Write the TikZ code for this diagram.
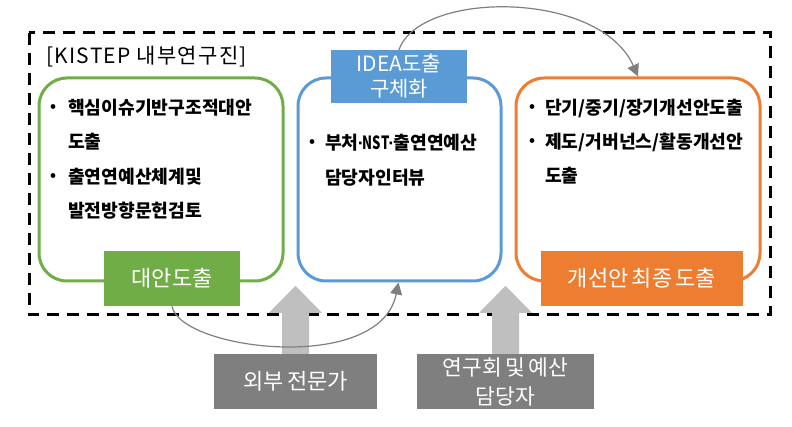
\documentclass[tikz,border=0pt]{standalone}
\usepackage{fontspec}
\usepackage{graphicx}
\setmainfont{Noto Sans CJK KR}
\newfontfamily\latdot{Liberation Sans}
\usetikzlibrary{arrows.meta,calc}
\definecolor{cgreen}{HTML}{70AD47}
\definecolor{cblue}{HTML}{5B9BD5}
\definecolor{corange}{HTML}{ED7D31}
\definecolor{cgray}{HTML}{7F7F7F}
\definecolor{clight}{HTML}{BFBFBF}
\newcommand{\tgap}{\hspace{0.15em}}
\begin{document}
\begin{tikzpicture}[x=1pt,y=-1pt,
  panel/.style={draw=#1,line width=3pt,rounded corners=28pt,minimum height=203pt,inner sep=0pt},
  tag/.style={fill=#1,text=white,inner sep=0pt,align=center,font=\fontsize{22}{25}\selectfont},
  item/.style={anchor=west,inner sep=0pt,font=\bfseries\fontsize{18.2}{20}\selectfont},
  bul/.style={inner sep=0pt,font=\bfseries\fontsize{15}{16}\selectfont},
  link/.style={draw=cgray,line width=1.2pt,-{Triangle[length=12pt,width=12pt]}},
  uparrow/.style={fill=clight,draw=none},
]
\useasboundingbox (0,0) rectangle (792,427);

% dashed frame
\draw[line width=3pt,dash pattern=on 12pt off 8pt] (29,33) rectangle (770,315);
\node[anchor=west,inner sep=0pt,font=\fontsize{21}{24}\selectfont\addfontfeature{LetterSpace=6}] (kistep) at (46,57) {[KISTEP 내부연구진]};

% panels
\node[panel=cgreen,minimum width=244pt] (gbox) at (161,179.5) {};
\node[panel=cblue,minimum width=203pt] (bbox) at (399.5,179.5) {};
\node[panel=corange,minimum width=244pt] (obox) at (638,179.5) {};

% tags
\node[tag=cgreen,minimum width=136pt,minimum height=55pt] (gtag) at (172,278.5) {대안도출};
\node[tag=cblue,minimum width=136pt,minimum height=53pt,font=\fontsize{21}{25}\selectfont] (btag) at (399,76.5) {IDEA도출\\구체화};
\node[tag=corange,minimum width=202pt,minimum height=55pt] (otag) at (642,278.5) {개선안\tgap 최종\tgap 도출};

% green items
\node[bul] (gb1) at (53,108) {•};
\node[item] (g1) at (68,108) {핵심이슈기반구조적대안};
\node[item] (g2) at (68,142) {도출};
\node[bul] (gb2) at (53,177) {•};
\node[item] (g3) at (68,177) {출연연예산체계및};
\node[item] (g4) at (68,211) {발전방향문헌검토};

% blue items
\node[bul] (bb1) at (312,143) {•};
\node[item] (b1) at (325,143) {부처{\latdot\kern-0.05em·\kern-0.05em}\scalebox{0.72}[1]{NST}{\latdot\kern-0.05em·\kern-0.05em}출연연예산};
\node[item] (b2) at (325,178) {담당자인터뷰};

% orange items
\node[bul] (ob1) at (532,108) {•};
\node[item] (o1) at (545,108) {단기/중기/장기개선안도출};
\node[bul] (ob2) at (532,142) {•};
\node[item] (o2) at (545,142) {제도/거버넌스/활동개선안};
\node[item] (o3) at (545,176) {도출};

% external boxes
\node[tag=cgray,minimum width=163pt,minimum height=55pt] (ext) at (295.5,381.5) {외부\tgap 전문가};
\node[tag=cgray,minimum width=177pt,minimum height=55pt,font=\fontsize{21.5}{29}\selectfont] (res) at (505.5,381.5) {연구회\tgap 및\tgap 예산\\담당자};

% up arrows
\foreach \b in {ext,res}{
  \fill[uparrow] ($(\b.north)+(-13.5,0)$) -- ($(\b.north)+(-13.5,-41)$) -- ($(\b.north)+(-26.5,-41)$)
    -- ($(\b.north)+(0,-68)$) -- ($(\b.north)+(26.5,-41)$) -- ($(\b.north)+(13.5,-41)$)
    -- ($(\b.north)+(13.5,0)$) -- cycle;
}

% curved connectors
\coordinate (bin) at ($(bbox.south west)+(102,0)$);
\draw[link] (gtag.south) .. controls (180,350) and (380,375) .. (bin);
\draw[link] (btag.north) .. controls (420,-10) and (600,-10) .. (obox.north);
\end{tikzpicture}
\end{document}
